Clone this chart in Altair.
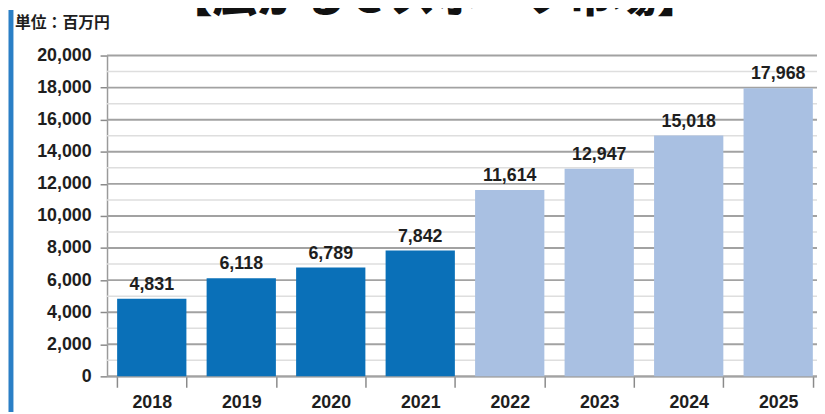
import altair as alt
import pandas as pd

years = ["2018", "2019", "2020", "2021", "2022", "2023", "2024", "2025"]
values = [4831, 6118, 6789, 7842, 11614, 12947, 15018, 17968]
kinds = ["実績", "実績", "実績", "実績", "予測", "予測", "予測", "予測"]
major_ticks = list(range(0, 20001, 2000))
minor_ticks = list(range(1000, 20000, 2000))

title_text = "【広がるｅスポーツ市場】"
unit_text = "単位：百万円"

df = pd.DataFrame({"year": years, "value": values, "kind": kinds})
df_major = pd.DataFrame({"value": major_ticks})
df_minor = pd.DataFrame({"value": minor_ticks})

NUM_FONT = "Liberation Sans"
CJK_FONT = "Noto Sans CJK JP"

x_axis = alt.Axis(
    labelAngle=0,
    tickBand="extent",
    tickSize=11,
    tickColor="#8a8a8a",
    tickWidth=1.5,
    domainColor="#9a9a9a",
    domainWidth=1.5,
    labelFont=NUM_FONT,
    labelFontSize=18,
    labelFontWeight="bold",
    labelColor="#1e1e1e",
    labelPadding=6,
    grid=False,
)
x_scale = alt.Scale(range=[0, 723], paddingInner=0.226, paddingOuter=0.113)

y_axis = alt.Axis(
    values=major_ticks,
    labelExpr="format(datum.value, ',d')",
    labelOverlap=False,
    labelFont=NUM_FONT,
    labelFontSize=18,
    labelFontWeight="bold",
    labelColor="#1e1e1e",
    labelPadding=9,
    tickSize=7,
    tickWidth=1.5,
    tickColor="#8a8a8a",
    domainColor="#9a9a9a",
    domainWidth=1.5,
    grid=False,
)
y_scale = alt.Scale(domain=[0, 20000], nice=False)


def yq():
    return alt.Y("value:Q", title=None, scale=y_scale, axis=y_axis)


minor_grid = alt.Chart(df_minor).mark_rule(color="#dedede", strokeWidth=1.5).encode(y=yq())
major_grid = alt.Chart(df_major).mark_rule(color="#a2a2a2", strokeWidth=2).encode(y=yq())

bars = alt.Chart(df).mark_bar().encode(
    x=alt.X("year:N", sort=years, title=None, scale=x_scale, axis=x_axis),
    y=yq(),
    color=alt.Color(
        "kind:N",
        scale=alt.Scale(domain=["実績", "予測"], range=["#0a70b8", "#a9c0e2"]),
        legend=None,
    ),
)

labels = alt.Chart(df).mark_text(
    baseline="alphabetic",
    dy=-9,
    font=NUM_FONT,
    fontSize=18,
    fontWeight="bold",
    color="#1e1e1e",
).encode(
    x=alt.X("year:N", sort=years, title=None, scale=x_scale, axis=x_axis),
    y=yq(),
    text=alt.Text("value:Q", format=",d"),
)

title = alt.Chart(pd.DataFrame({"t": [title_text]})).mark_text(
    align="center",
    baseline="alphabetic",
    font=CJK_FONT,
    fontSize=45,
    fontWeight=900,
    color="#111111",
).encode(x=alt.value(331), y=alt.value(-44), text="t:N")

unit = alt.Chart(pd.DataFrame({"t": [unit_text]})).mark_text(
    align="left",
    baseline="middle",
    font=CJK_FONT,
    fontSize=16,
    fontWeight="bold",
    color="#1e1e1e",
).encode(x=alt.value(-93), y=alt.value(-33), text="t:N")

border = alt.Chart(pd.DataFrame({"a": [0]})).mark_rule(
    color="#2b7fc6", strokeWidth=5
).encode(x=alt.value(-97), y=alt.value(-46), y2=alt.value(360))

chart = alt.layer(minor_grid, major_grid, bars, labels, title, unit, border).properties(
    width=717,
    height=324,
    autosize=alt.AutoSizeParams(type="none"),
    padding={"left": 100, "top": 46, "right": 0, "bottom": 36},
    background="white",
).configure_view(stroke=None)

chart.save("out.html", embed_options={"renderer": "svg", "actions": False})
